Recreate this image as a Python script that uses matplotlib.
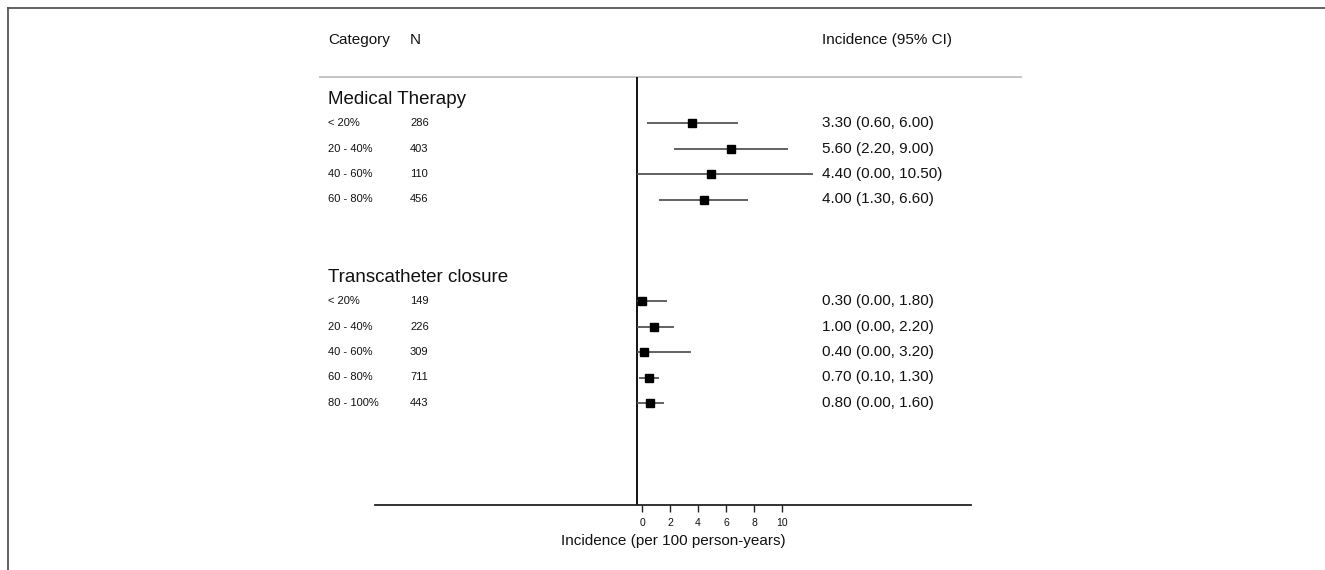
import matplotlib
matplotlib.use("Agg")
import matplotlib.pyplot as plt
from matplotlib.lines import Line2D

plt.rcParams['font.family'] = ['Liberation Sans', 'DejaVu Sans']

# ---------------- data ----------------
group_names = ["Medical Therapy", "Transcatheter closure"]

med_cats = ["< 20%", "20 - 40%", "40 - 60%", "60 - 80%"]
med_n = [286, 403, 110, 456]
med_est = [3.30, 5.60, 4.40, 4.00]
med_lo = [0.60, 2.20, 0.00, 1.30]
med_hi = [6.00, 9.00, 10.50, 6.60]

tc_cats = ["< 20%", "20 - 40%", "40 - 60%", "60 - 80%", "80 - 100%"]
tc_n = [149, 226, 309, 711, 443]
tc_est = [0.30, 1.00, 0.40, 0.70, 0.80]
tc_lo = [0.00, 0.00, 0.00, 0.10, 0.00]
tc_hi = [1.80, 2.20, 3.20, 1.30, 1.60]

tick_values = [0, 2, 4, 6, 8, 10]
x_label = "Incidence (per 100 person-years)"
header_cat = "Category"
header_n = "N"
header_ci = "Incidence (95% CI)"

# ---------------- layout ----------------
W, H = 1325, 570
ZERO_PX = 637.0      # pixel of incidence 0 for the marks
SCALE = 16.8         # pixels per unit for the marks

fig = plt.figure(figsize=(W / 100, H / 100), dpi=100)
ax = fig.add_axes([0, 0, 1, 1])
ax.set_xlim(-ZERO_PX / SCALE, (W - ZERO_PX) / SCALE)
ax.set_ylim(H, 0)
ax.axis("off")


def px2x(px):
    return (px - ZERO_PX) / SCALE


TXT = "#111111"
X_CAT, X_N, X_CI = 328, 410, 822

# frame (cropped border)
fig.add_artist(Line2D([8 / W, 1], [1 - 8 / H, 1 - 8 / H], transform=fig.transFigure,
                      color="#555555", lw=1.3))
fig.add_artist(Line2D([8 / W, 8 / W], [0, 1 - 8 / H], transform=fig.transFigure,
                      color="#555555", lw=1.3))

# header
ax.text(px2x(X_CAT), 40, header_cat, fontsize=11, color=TXT, va="center", ha="left")
ax.text(px2x(X_N), 40, header_n, fontsize=11, color=TXT, va="center", ha="left")
ax.text(px2x(X_CI), 40, header_ci, fontsize=11, color=TXT, va="center", ha="left")
ax.hlines(77, px2x(319), px2x(1022), color="#bbbbbb", lw=1.2)

# vertical reference line at 0
ax.vlines(0, 77, 505, color="#111111", lw=1.4)

groups = [
    (group_names[0], med_cats, med_n, med_est, med_lo, med_hi, 100, 123),
    (group_names[1], tc_cats, tc_n, tc_est, tc_lo, tc_hi, 278, 301),
]
ROW_STEP = 25.5

for name, cats, ns, est, lo, hi, y_head, y_first in groups:
    ax.text(px2x(X_CAT), y_head, name, fontsize=13.5, color=TXT, va="center", ha="left")
    for i, (c, n, e, l, h) in enumerate(zip(cats, ns, est, lo, hi)):
        y = y_first + i * ROW_STEP
        ax.text(px2x(X_CAT), y, c, fontsize=8, color=TXT, va="center", ha="left")
        ax.text(px2x(X_N), y, str(n), fontsize=8, color=TXT, va="center", ha="left")
        ax.hlines(y, l, h, color="#555555", lw=1.3)
        ax.plot([e], [y], marker="s", ms=6.4, color="black", mec="black", ls="none")
        ax.text(px2x(X_CI), y, f"{e:.2f} ({l:.2f}, {h:.2f})", fontsize=11, color=TXT,
                va="center", ha="left")

# bottom axis (tick scale)
AX_L, AX_R, AX_Y = 375, 971, 505
TICK_ZERO, TICK_SCALE = 642.0, 14.0
bax = fig.add_axes([AX_L / W, 1 - AX_Y / H, (AX_R - AX_L) / W, 1e-4])
bax.set_xlim((AX_L - TICK_ZERO) / TICK_SCALE, (AX_R - TICK_ZERO) / TICK_SCALE)
bax.patch.set_visible(False)
for s in ["top", "left", "right"]:
    bax.spines[s].set_visible(False)
bax.spines["bottom"].set_color("#222222")
bax.spines["bottom"].set_linewidth(1.3)
bax.set_yticks([])
bax.set_xticks(tick_values)
bax.set_xticklabels([str(t) for t in tick_values])
bax.tick_params(axis="x", direction="out", length=5, width=1.0, color="#222222",
                labelsize=7.5, labelcolor=TXT, pad=4)
bax.set_xlabel(x_label, fontsize=11, color=TXT, labelpad=5)

fig.savefig("out.png", dpi=100)
